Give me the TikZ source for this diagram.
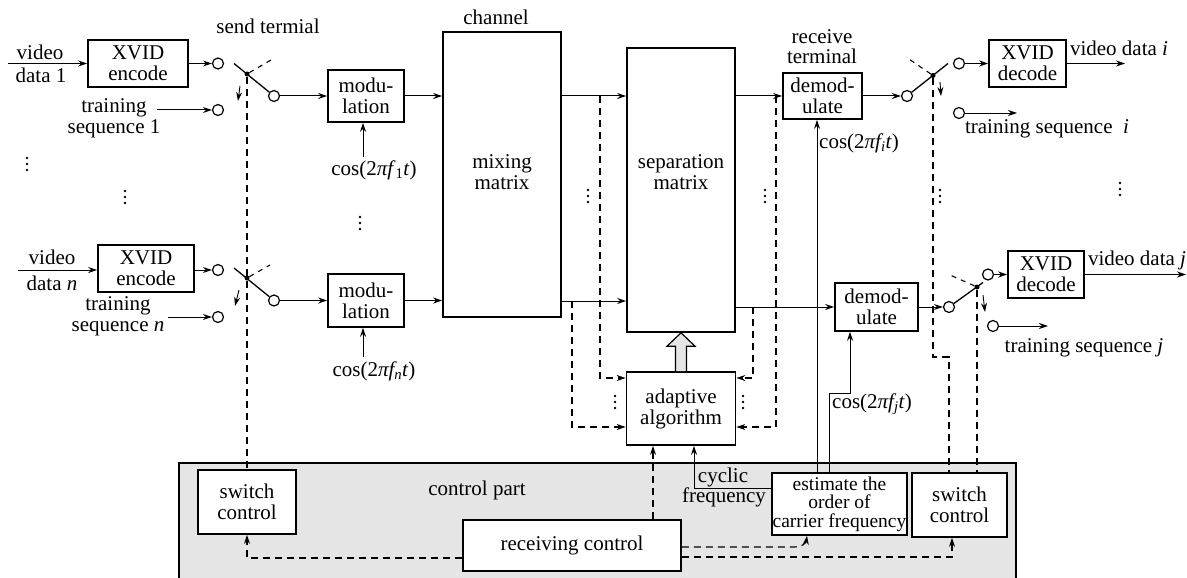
\documentclass[tikz,border=0pt]{standalone}
\usepackage{fontspec}
\setmainfont{Liberation Serif}
\usetikzlibrary{arrows.meta,calc}
\definecolor{ctrlgray}{RGB}{229,229,229}
\begin{document}
\begin{tikzpicture}[x=1pt,y=-1pt,
  font=\fontsize{21}{21}\selectfont,
  box/.style={draw,line width=1.6pt,fill=white,inner sep=0pt,align=center},
  circ/.style={circle,draw,line width=1.2pt,fill=white,minimum size=11pt,inner sep=0pt},
  arr/.style={line width=1pt,-{Stealth[length=9pt,width=6pt]}},
  ln/.style={line width=1pt},
  blade/.style={line width=1.3pt},
  dsh/.style={line width=1.1pt,dash pattern=on 7pt off 5pt},
  darr/.style={dsh,-{Stealth[length=9pt,width=6pt]}},
  txt/.style={inner sep=0pt,align=center},
  piv/.style={circle,fill=black,minimum size=5pt,inner sep=0pt},
]
\useasboundingbox (0,0) rectangle (1187,578);
% control part background
\node[draw,line width=1.3pt,fill=ctrlgray,minimum width=837pt,minimum height=140pt,inner sep=0pt] (ctrl) at (597.5,533) {};
\node[txt] (lctrl) at (477,490) {control part};

% boxes
\node[box,minimum width=100pt,minimum height=47pt] (enc1) at (138,63.5) {XVID\\encode};
\node[box,minimum width=96pt,minimum height=47pt] (encn) at (146,268.5) {XVID\\encode};
\node[box,minimum width=76pt,minimum height=52pt] (mod1) at (366,96) {modu-\\lation};
\node[box,minimum width=76pt,minimum height=53pt] (modn) at (366,300.5) {modu-\\lation};
\node[box,minimum width=118pt,minimum height=285pt] (mix) at (502,174.5) {};
\node[txt] (lmix) at (502,172) {mixing\\matrix};
\node[box,minimum width=108pt,minimum height=284pt] (sep) at (681,190) {};
\node[txt] (lsep) at (681,172) {separation\\matrix};
\node[box,minimum width=79pt,minimum height=46pt] (dem1) at (822.5,96) {demod-\\ulate};
\node[box,minimum width=83pt,minimum height=48pt] (demn) at (876.5,307) {demod-\\ulate};
\node[box,minimum width=77pt,minimum height=47pt] (dec1) at (1027.5,63.5) {XVID\\decode};
\node[box,minimum width=76pt,minimum height=47pt] (decn) at (1046,274.5) {XVID\\decode};
\node[box,minimum width=109pt,minimum height=73pt] (adapt) at (681,408.5) {adaptive\\algorithm};
\node[box,minimum width=98pt,minimum height=64pt] (sw1) at (247,502) {switch\\control};
\node[box,minimum width=95pt,minimum height=64pt] (sw2) at (959.5,505) {switch\\control};
\node[box,minimum width=135pt,minimum height=62pt,font=\fontsize{19.5}{18.5}\selectfont] (est) at (839.5,504) {estimate the\\order of\\carrier frequency};
\node[box,minimum width=218pt,minimum height=51pt] (recv) at (572,545.5) {receiving control};

% labels
\node[txt] (lsend) at (268,26) {send termial};
\node[txt] (lchan) at (496,17.5) {channel};
\node[txt,font=\fontsize{21}{20}\selectfont] (lrecv) at (822,46.5) {receive\\terminal};

% input side 1
\node[txt,anchor=base] (v1a) at (40,60) {video};
\node[txt,anchor=base] (v1b) at (41,83) {data 1};
\coordinate (in1) at (8,63.5);
\draw[arr] (in1) -- (in1 -| enc1.west);
\node[circ] (c1a) at (218,63.5) {};
\node[circ] (c1b) at (218,110) {};
\node[circ] (c1o) at (274,96) {};
\node[piv] (p1) at (247,74) {};
\draw[arr] (enc1.east) -- (c1a.west);
\node[txt] (t1) at (114,118) {training\\sequence 1};
\coordinate (t1s) at (157,110);
\draw[arr] (t1s) -- (c1b.west);
\coordinate (b1) at (234,63.5);
\draw[blade] (b1) -- (c1o);
\coordinate (s1) at (271,60);
\draw[dsh,dash pattern=on 5pt off 5pt] (p1) -- (s1);
\coordinate (a1s) at (240,86);
\coordinate (a1e) at (238,101);
\draw[arr,line width=0.9pt] (a1s) -- (a1e);
\draw[arr] (c1o.east) -- (c1o -| mod1.west);

% input side n
\node[txt,anchor=base] (vna) at (52,264) {video};
\node[txt,anchor=base] (vnb) at (52,290) {data \textit{n}};
\coordinate (inn) at (18,270);
\draw[arr] (inn) -- (inn -| encn.west);
\node[circ] (cna) at (218,270) {};
\node[circ] (cnb) at (218,317) {};
\node[circ] (cno) at (274,300.5) {};
\node[piv] (pn) at (247,278) {};
\draw[arr] (encn.east |- cna) -- (cna.west);
\node[txt] (tn) at (118,316) {training\\sequence \textit{n}};
\coordinate (tns) at (168,317);
\draw[arr] (tns) -- (cnb.west);
\coordinate (bn) at (234,268);
\draw[blade] (bn) -- (cno);
\coordinate (sn) at (270,265);
\draw[dsh,dash pattern=on 5pt off 5pt] (pn) -- (sn);
\coordinate (ans) at (239,290);
\coordinate (ane) at (235,306);
\draw[arr,line width=0.9pt] (ans) -- (ane);
\draw[arr] (cno.east) -- (cno -| modn.west);

% carrier inputs
\node[txt] (cos1) at (374,170) {cos(2\textit{πf}\textsubscript{1}\textit{t})};
\coordinate (k1) at (363,157);
\draw[arr] (k1) -- (k1 |- mod1.south);
\node[txt] (cosn) at (374,371) {cos(2\textit{πf\textsubscript{n}t})};
\coordinate (kn) at (363,357);
\draw[arr] (kn) -- (kn |- modn.south);

% channel links
\draw[arr] (mod1.east) -- (mod1.east -| mix.west);
\draw[arr] (modn.east) -- (modn.east -| mix.west);
\coordinate (ly1) at (0,96);
\coordinate (ly2) at (0,301);
\draw[arr] (ly1 -| mix.east) -- (ly1 -| sep.west);
\draw[arr] (ly2 -| mix.east) -- (ly2 -| sep.west);
\draw[arr] (ly1 -| sep.east) -- (dem1.west);
\draw[arr] (demn.west -| sep.east) -- (demn.west);

% feedback to adaptive algorithm
\coordinate (fa0) at (600,96); \coordinate (fa1) at (600,378);
\draw[darr] (fa0) -- (fa1) -- (fa1 -| adapt.west);
\coordinate (fb0) at (572,301); \coordinate (fb1) at (572,427);
\draw[darr] (fb0) -- (fb1) -- (fb1 -| adapt.west);
\coordinate (fc0) at (776,96); \coordinate (fc1) at (776,427);
\draw[darr] (fc0) -- (fc1) -- (fc1 -| adapt.east);
\coordinate (fd0) at (753,307); \coordinate (fd1) at (753,378);
\draw[darr] (fd0) -- (fd1) -- (fd1 -| adapt.east);

% big hollow arrow
\draw[line width=1.2pt,fill=ctrlgray,line join=miter]
  ($(adapt.north)+(-5.5,0)$) -- ($(adapt.north)+(-5.5,-25)$) -- ($(adapt.north)+(-14,-25)$)
  -- (sep.south) -- ($(adapt.north)+(14,-25)$) -- ($(adapt.north)+(5.5,-25)$) -- ($(adapt.north)+(5.5,0)$);

% receive side i
\node[circ] (ci) at (907,96) {};
\node[piv] (pi) at (933,75.5) {};
\node[circ] (cia) at (959,63.5) {};
\node[circ] (cib) at (959,113) {};
\draw[arr] (dem1.east) -- (ci.west);
\coordinate (bi) at (948,63.5);
\draw[blade] (ci) -- (bi);
\coordinate (si) at (906,57);
\draw[dsh,dash pattern=on 5pt off 5pt] (pi) -- (si);
\coordinate (ais) at (940,82);
\coordinate (aie) at (941,96);
\draw[arr,line width=0.9pt] (ais) -- (aie);
\draw[arr] (cia.east) -- (cia -| dec1.west);
\coordinate (o1) at (1125,63.5);
\draw[arr] (dec1.east) -- (o1);
\node[txt] (lo1) at (1119,48) {video data \textit{i}};
\coordinate (o2) at (1017,113);
\draw[arr] (cib.east) -- (o2);
\node[txt] (lo2) at (1047,129) {training sequence\ \ \textit{i}};

% receive side j
\node[circ] (cj) at (949,307) {};
\node[piv] (pj) at (977,287) {};
\node[circ] (cja) at (988,274.5) {};
\node[circ] (cjb) at (993,326) {};
\draw[arr] (demn.east) -- (cj.west);
\coordinate (bj) at (983,282.5);
\draw[blade] (cj) -- (bj);
\coordinate (sj) at (950,275);
\draw[dsh,dash pattern=on 5pt off 5pt] (pj) -- (sj);
\coordinate (ajs) at (983,295);
\coordinate (aje) at (985,312);
\draw[arr,line width=0.9pt] (ajs) -- (aje);
\draw[arr] (cja.east) -- (cja -| decn.west);
\coordinate (o3) at (1186,274.5);
\draw[arr] (decn.east) -- (o3);
\node[txt] (lo3) at (1137,260) {video data \textit{j}};
\coordinate (o4) at (1048,326);
\draw[arr] (cjb.east) -- (o4);
\node[txt] (lo4) at (1084,348) {training sequence \textit{j}};

% switch control dashed lines
\draw[dsh] (p1) -- (sw1.north);
\coordinate (jg) at (949,357);
\draw[dsh] (pi) -- (pi |- jg) -- (jg) -- (jg |- sw2.north);
\draw[dsh] (pj) -- (pj |- sw2.north);

% carrier frequency estimation outputs
\coordinate (e1) at (817,0);
\draw[arr] (est.north -| e1) -- (dem1.south -| e1);
\node[txt,anchor=west] (cosi) at (819,143) {cos(2\textit{πf\textsubscript{i}t})};
\coordinate (e2a) at (829,393); \coordinate (e2b) at (850,393);
\draw[arr] (est.north -| e2a) -- (e2a) -- (e2b) -- (demn.south -| e2b);
\node[txt,anchor=west] (cosj) at (832,404) {cos(2\textit{πf\textsubscript{j}t})};
\coordinate (cy) at (694,488);
\draw[arr] (est.west |- cy) -- (cy) -- (adapt.south -| cy);
\node[txt,anchor=base] (lcyc) at (723,482) {cyclic};
\node[txt,anchor=base] (lfrq) at (724,502) {frequency};

% receiving control dashed outputs
\coordinate (r1) at (653,0);
\draw[darr] (recv.north -| r1) -- (adapt.south -| r1);
\coordinate (r2) at (0,558);
\draw[darr] (recv.west |- r2) -- (r2 -| sw1.south) -- (sw1.south);
\coordinate (r3) at (795,547); \coordinate (r3x) at (807,0);
\coordinate (r3c1) at (802,547); \coordinate (r3c2) at (806,543);
\draw[darr] (recv.east |- r3) -- (r3) .. controls (r3c1) and (r3c2) .. (est.south -| r3x);
\coordinate (r4) at (952,557);
\draw[darr] (recv.east |- r4) -- (r4) -- (r4 |- sw2.south);

% continuation dots
\foreach \x/\y in {27/164,125/197,360/223,588/196,765/196,940/196,1120/189,615/402,743/402}{
  \foreach \k in {-6,0,6}{\fill (\x,{\y+\k}) circle[radius=1.3pt];}}
\end{tikzpicture}
\end{document}
